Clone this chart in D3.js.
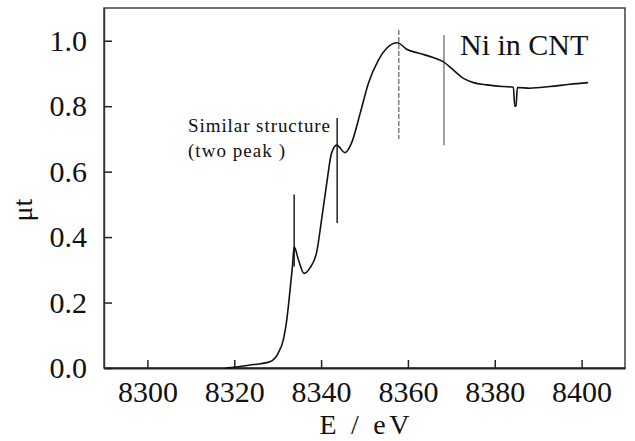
<!DOCTYPE html>
<html>
<head>
<meta charset="utf-8">
<script src="https://d3js.org/d3.v7.min.js"></script>
<style>
  body { margin: 0; background: #fff; }
</style>
</head>
<body>
<div id="chart"></div>
<script>
// XANES spectrum, Ni K-edge
const energy = [8318, 8320, 8323.6, 8326, 8328.2, 8330.1, 8331.3, 8332.1, 8332.7, 8333.4, 8333.8,
  8334.8, 8336.1, 8337.4, 8339.0, 8340.1, 8341.3, 8342.4, 8343.6, 8345.5, 8347.0, 8349.0,
  8350.9, 8353.2, 8355.1, 8357.6, 8359.7, 8362.8, 8365.8, 8368.1, 8370.5, 8372.8, 8375.1,
  8378.1, 8382.0, 8384.3, 8384.6, 8384.9, 8385.2, 8388.1, 8392.7, 8397.3, 8401.5];
const mu = [0, 0.002, 0.009, 0.013, 0.019, 0.045, 0.086, 0.147, 0.218, 0.31, 0.37,
  0.33, 0.289, 0.305, 0.355, 0.452, 0.564, 0.656, 0.681, 0.658, 0.687, 0.778,
  0.87, 0.941, 0.977, 0.994, 0.974, 0.961, 0.949, 0.936, 0.910, 0.885, 0.872,
  0.865, 0.86, 0.858, 0.80, 0.80, 0.857, 0.855, 0.86, 0.867, 0.872];

// vertical marker lines
const markE = [8333.8, 8343.7, 8357.9, 8368.3];
const markTop = [0.53, 0.764, 1.033, 1.017];
const markBottom = [0.31, 0.443, 0.70, 0.681];

const xTicks = [8300, 8320, 8340, 8360, 8380, 8400];
const yTicks = [0, 0.2, 0.4, 0.6, 0.8, 1.0];

const serif = '"Liberation Serif", "Times New Roman", serif';

const W = 635, H = 441;
const margin = {top: 8, right: 10, bottom: 73, left: 104};
const width = W - margin.left - margin.right,
      height = H - margin.top - margin.bottom;

const svg = d3.select("#chart").append("svg")
    .attr("width", W)
    .attr("height", H);

const g = svg.append("g")
    .attr("transform", `translate(${margin.left},${margin.top})`);

const x = d3.scaleLinear().domain([8290, 8410]).range([0, width]);
const y = d3.scaleLinear().domain([0, 1.1]).range([height, 0]);

// frame
g.append("rect")
  .attr("width", width).attr("height", height)
  .attr("fill", "none").attr("stroke", "#333").attr("stroke-width", 1.4);

// x axis, ticks pointing inward
const xAxis = g.append("g")
  .attr("transform", `translate(0,${height})`)
  .call(d3.axisBottom(x).tickValues(xTicks).tickFormat(d3.format("d")).tickSizeInner(-8).tickSizeOuter(0).tickPadding(13));
xAxis.select(".domain").attr("stroke", "#222").attr("stroke-width", 2);
xAxis.selectAll(".tick line").attr("stroke", "#222").attr("stroke-width", 1.5);
xAxis.selectAll("text").style("font-size", "30px").style("font-family", serif).attr("fill", "#111");

// y axis
const yAxis = g.append("g")
  .call(d3.axisLeft(y).tickValues(yTicks).tickFormat(d3.format(".1f")).tickSizeInner(-8).tickSizeOuter(0).tickPadding(17));
yAxis.select(".domain").attr("stroke", "#333").attr("stroke-width", 1.4);
yAxis.selectAll(".tick line").attr("stroke", "#222").attr("stroke-width", 1.5);
yAxis.selectAll("text").style("font-size", "30px").style("font-family", serif).attr("fill", "#111");

// marker lines
g.selectAll(".mark")
  .data(markE)
  .enter().append("line")
    .attr("x1", d => x(d)).attr("x2", d => x(d))
    .attr("y1", (d, i) => y(markTop[i]))
    .attr("y2", (d, i) => y(markBottom[i]))
    .attr("stroke", (d, i) => i < 2 ? "#111" : "#777")
    .attr("stroke-width", 1.4)
    .attr("stroke-dasharray", (d, i) => i === 2 ? "5,2" : null);

// spectrum
const data = energy.map((e, i) => ({e: e, v: mu[i]}));
g.append("path")
  .datum(data)
  .attr("fill", "none")
  .attr("stroke", "#111")
  .attr("stroke-width", 1.6)
  .attr("d", d3.line()
    .x(d => x(d.e))
    .y(d => y(d.v))
    .curve(d3.curveMonotoneX));

// annotations
function label(xp, yp, size, str, len) {
  const t = svg.append("text")
    .attr("x", xp).attr("y", yp)
    .style("font-family", serif)
    .style("font-size", size + "px")
    .attr("fill", "#111")
    .text(str);
  if (len) t.attr("textLength", len).attr("lengthAdjust", "spacing");
  return t;
}
label(188, 132, 19, "Similar structure", 142);
label(188, 157, 19, "(two peak )", 97);
label(460, 55, 30, "Ni in CNT");

// axis titles
label(margin.left + width / 2 - 45, 434, 28, "E / eV", 90);
label(0, 0, 28, "μt")
  .attr("x", null).attr("y", null)
  .attr("text-anchor", "middle")
  .attr("transform", "translate(32,210) rotate(-90)");
</script>
</body>
</html>
